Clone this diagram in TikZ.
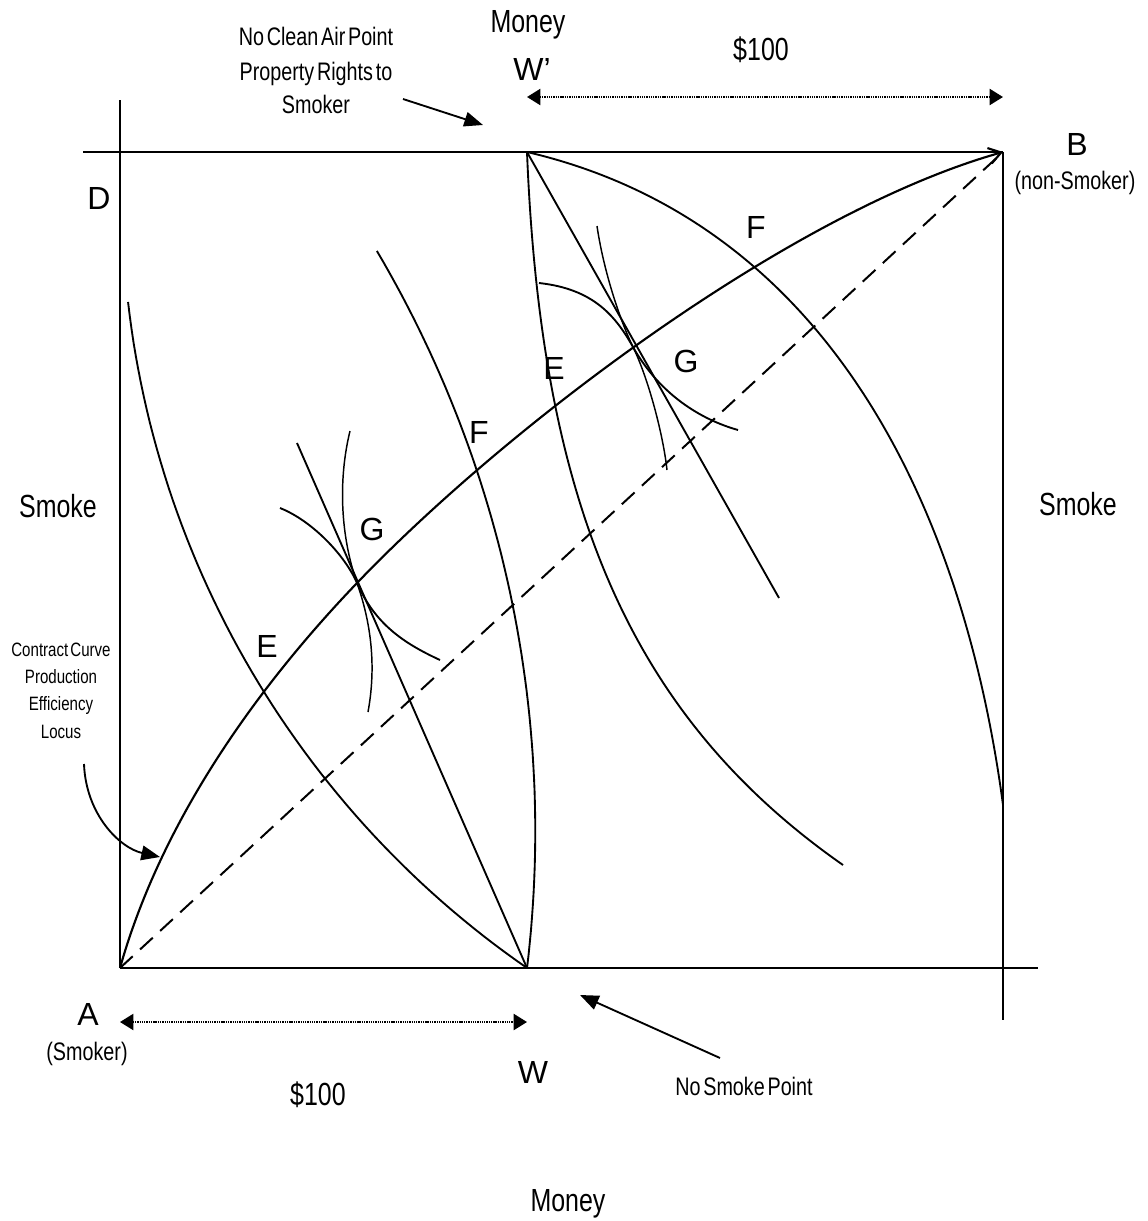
\documentclass[tikz,border=0pt]{standalone}
\usepackage{fontspec}
\setmainfont{Liberation Sans}
\newfontfamily\nf{Liberation Sans}[FakeStretch=0.78,WordSpace=0.5]
\usetikzlibrary{arrows.meta}
\begin{document}
\begin{tikzpicture}[x=0.75pt,y=-0.75pt,
  boxline/.style={line width=1.8pt},
  curve/.style={line width=1.4pt},
  thincurve/.style={line width=1.1pt},
  dashline/.style={line width=1.5pt, dash pattern=on 13pt off 7.5pt},
  dotarrow/.style={line width=1.6pt, dash pattern=on 1pt off 0.7pt, {Triangle[length=10pt,width=12pt]}-{Triangle[length=10pt,width=12pt]}},
  callout/.style={line width=1.4pt, -{Triangle[length=14pt,width=11pt]}},
  bigl/.style={font=\fontsize{24}{28}\selectfont, inner sep=0pt, anchor=base},
  wordl/.style={font=\nf\fontsize{24}{28}\selectfont, inner sep=0pt, anchor=base},
  smalll/.style={font=\nf\fontsize{19}{23}\selectfont, inner sep=0pt, anchor=base},
  notel/.style={font=\nf\fontsize{14.5}{17}\selectfont, inner sep=0pt, anchor=base},
]
\useasboundingbox[fill=white] (0,0) rectangle (1148,1221);

% corners and points
\coordinate (A) at (120,968);
\coordinate (B) at (1003,152);
\coordinate (W) at (527,968);
\coordinate (Wp) at (527,152);
\coordinate (Ltop) at (120,100);
\coordinate (Tleft) at (83,152);
\coordinate (Rbot) at (1003,1020);
\coordinate (Bright) at (1038,968);
\coordinate (G1) at (357,583);
\coordinate (G2) at (633,347);

% box lines
\draw[boxline] (Ltop) -- (A);
\draw[boxline] (Tleft) -- (B);
\draw[boxline] (B) -- (Rbot);
\draw[boxline] (A) -- (Bright);

% dashed diagonal
\draw[dashline] (A) -- (B);

% contract curve
\draw[line width=1.6pt, -{Straight Barb[length=9pt,width=12pt]}]
  (A) .. controls (160.5,824) and (253.5,691) .. (G1)
      .. controls (508.8,424.6) and (791.8,211.4) .. (B);

% left side: E arc, F arc, tangent line, indifference curves
\draw[curve] plot[domain=124.68:173.47, samples=60, variable=\t] ({1061.8+939.9*cos(\t)}, {195.1+939.9*sin(\t)});
\draw[curve] plot[domain=-30.53:6.88, samples=60, variable=\t] ({-607+1142.3*cos(\t)}, {831.2+1142.3*sin(\t)});
\coordinate (Ltan) at (297,443);
\draw[curve] (Ltan) -- (W);
\draw[curve] (280,508) .. controls (312.6,521) and (345,555.5) .. (G1)
             .. controls (375,624) and (403.6,643.2) .. (440,660);
\draw[thincurve] (350,431) .. controls (338,480) and (340.5,536) .. (G1)
             .. controls (373.5,630) and (375.2,672.8) .. (368,712);

% right side
\draw[curve] (Wp) .. controls (541,502) and (628.5,715) .. (843,865);
\coordinate (Rtan) at (779,598);
\draw[curve] (Wp) -- (Rtan);
\draw[curve] (Wp) .. controls (827,222) and (963,505) .. (1003,805);
\draw[curve] (539,283) .. controls (594,289) and (615.8,316.5) .. (G2)
             .. controls (665,403.6) and (713.9,423.25) .. (738,430);
\draw[thincurve] (597,226) .. controls (603.5,270.5) and (619.8,320) .. (G2)
             .. controls (648.4,378.5) and (663.3,435.2) .. (667,470);

% $100 arrows
\coordinate (TopL) at (527,97);
\coordinate (TopR) at (1003,97);
\draw[dotarrow] (TopL) -- (TopR);
\coordinate (BotL) at (120,1022);
\coordinate (BotR) at (527,1022);
\draw[dotarrow] (BotL) -- (BotR);

% callout arrows
\coordinate (nca) at (403,99);
\coordinate (ncaTip) at (483,125);
\draw[callout] (nca) -- (ncaTip);
\coordinate (nsp) at (720,1058);
\coordinate (nspTip) at (580,995);
\draw[callout] (nsp) -- (nspTip);
\coordinate (cc) at (84,764);
\coordinate (ccTip) at (160,857);
\draw[callout] (cc) .. controls (86,815) and (120,848) .. (ccTip);

% labels
\node[wordl] (money1) at (528,32) {Money};
\node[smalll] (nca1) at (316,45) {No Clean Air Point};
\node[smalll] (nca2) at (316,80) {Property Rights to};
\node[smalll] (nca3) at (316,113) {Smoker};
\node[bigl] (wp) at (532,80) {W'};
\node[wordl] (d1) at (761,60) {\$100};
\node[bigl] (lb) at (1077,155) {B};
\node[smalll] (lns) at (1075,189) {(non-Smoker)};
\node[bigl] (ld) at (99,209) {D};
\node[bigl] (lf2) at (756,238) {F};
\node[bigl] (lg2) at (686,372) {G};
\node[bigl] (le2) at (554,379) {E};
\node[wordl] (sm1) at (58,517) {Smoke};
\node[wordl] (sm2) at (1078,515) {Smoke};
\node[bigl] (lg1) at (372,540) {G};
\node[bigl] (lf1) at (479,443) {F};
\node[bigl] (le1) at (267,657) {E};
\node[notel] (c1) at (61,656) {Contract Curve};
\node[notel] (c2) at (61,683) {Production};
\node[notel] (c3) at (61,710) {Efficiency};
\node[notel] (c4) at (61,738) {Locus};
\node[bigl] (la) at (88,1025) {A};
\node[smalll] (lsm) at (87,1060) {(Smoker)};
\node[bigl] (lw) at (533,1083) {W};
\node[wordl] (d2) at (318,1105) {\$100};
\node[smalll] (nsp1) at (744,1095) {No Smoke Point};
\node[wordl] (money2) at (568,1211) {Money};
\end{tikzpicture}
\end{document}
